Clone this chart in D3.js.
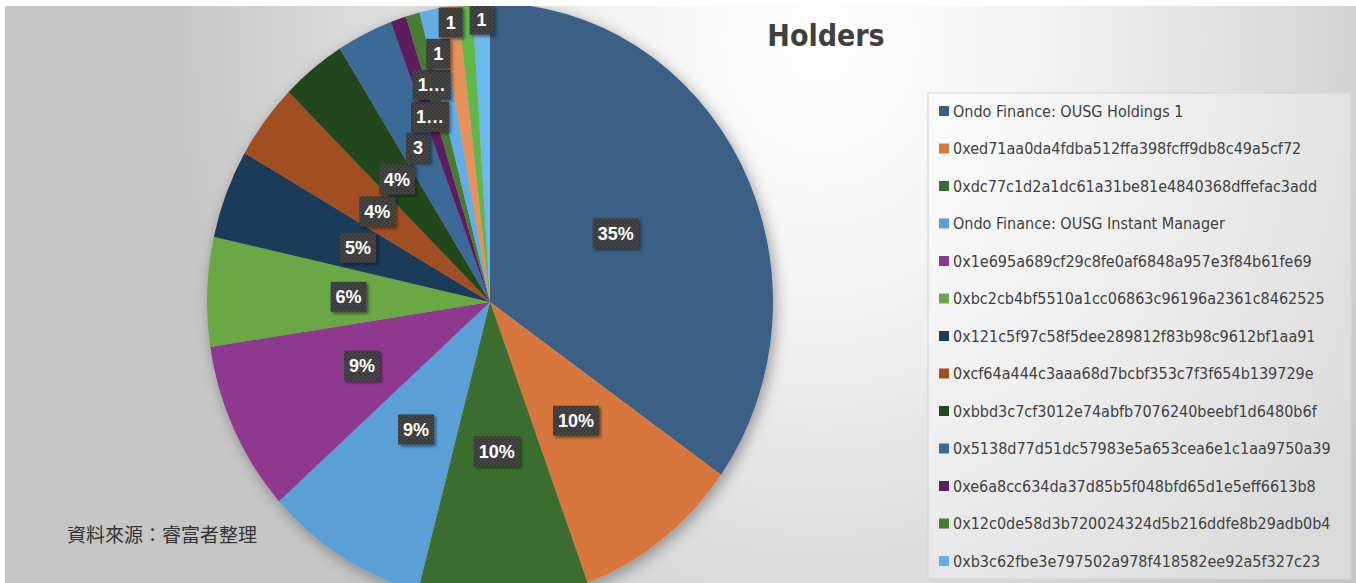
<!DOCTYPE html>
<html>
<head>
<meta charset="utf-8">
<script src="https://cdn.jsdelivr.net/npm/d3@7"></script>
<style>
  html, body { margin: 0; padding: 0; background: #fff; }
  svg { display: block; }
</style>
</head>
<body>
<div id="content"></div>
<script>
// holders, clockwise from 12 o'clock
const holderNames = [
  "Ondo Finance: OUSG Holdings 1",
  "0xed71aa0da4fdba512ffa398fcff9db8c49a5cf72",
  "0xdc77c1d2a1dc61a31be81e4840368dffefac3add",
  "Ondo Finance: OUSG Instant Manager",
  "0x1e695a689cf29c8fe0af6848a957e3f84b61fe69",
  "0xbc2cb4bf5510a1cc06863c96196a2361c8462525",
  "0x121c5f97c58f5dee289812f83b98c9612bf1aa91",
  "0xcf64a444c3aaa68d7bcbf353c7f3f654b139729e",
  "0xbbd3c7cf3012e74abfb7076240beebf1d6480b6f",
  "0x5138d77d51dc57983e5a653cea6e1c1aa9750a39",
  "0xe6a8cc634da37d85b5f048bfd65d1e5eff6613b8",
  "0x12c0de58d3b720024324d5b216ddfe8b29adb0b4",
  "0xb3c62fbe3e797502a978f418582ee92a5f327c23",
];
// share in % (last three are not in the legend)
const shares = [34.8, 9.6, 9.7, 9.3, 9.2, 5.9, 4.8, 4.1, 3.7, 3.2, 0.9, 0.8, 1.1, 1.1, 0.8, 1.0];
// data labels as shown (some are cut short)
const labelText = ["35%", "10%", "10%", "9%", "9%", "6%", "5%", "4%", "4%", "3", "1…", "1…", "1", "1", "", "1"];
const sliceColors = [
  "#3a5f85", "#d8773c", "#3a6e2e", "#5a9fd5", "#8e3790", "#6aa845",
  "#1f3a58", "#a14f20", "#23461f", "#3b6a96", "#5d1f5f", "#477b31",
  "#63aee4", "#e6925c", "#5fb84a", "#6cb9ee",
];
const chartTitle = "Holders";
const sourceNote = "資料來源：睿富者整理";

const W = 1356, H = 583;
const cx = 490, cy = 302, rx = 283, ry = 299;

const svg = d3.select("#content").append("svg")
  .attr("width", W).attr("height", H);

const defs = svg.append("defs");

const bg = defs.append("radialGradient")
  .attr("id", "bg")
  .attr("gradientUnits", "userSpaceOnUse")
  .attr("cx", 820).attr("cy", 40).attr("r", 760)
  .attr("gradientTransform", "translate(820,40) scale(0.85,1) translate(-820,-40)");
bg.append("stop").attr("offset", "0%").attr("stop-color", "#ffffff");
bg.append("stop").attr("offset", "35%").attr("stop-color", "#f2f2f2");
bg.append("stop").attr("offset", "75%").attr("stop-color", "#d9d9d9");
bg.append("stop").attr("offset", "100%").attr("stop-color", "#c6c6c6");

defs.append("clipPath").attr("id", "area")
  .append("rect").attr("x", 5).attr("y", 6).attr("width", W - 5).attr("height", H - 6);

const pieShadow = defs.append("filter").attr("id", "pieShadow")
  .attr("x", "-20%").attr("y", "-20%").attr("width", "140%").attr("height", "140%");
pieShadow.append("feDropShadow")
  .attr("dx", 3).attr("dy", 4).attr("stdDeviation", 7)
  .attr("flood-color", "#000").attr("flood-opacity", 0.35);

const boxShadow = defs.append("filter").attr("id", "boxShadow")
  .attr("x", "-30%").attr("y", "-30%").attr("width", "160%").attr("height", "160%");
boxShadow.append("feDropShadow")
  .attr("dx", 2).attr("dy", 2).attr("stdDeviation", 1.5)
  .attr("flood-color", "#000").attr("flood-opacity", 0.45);

// dotted texture of the label boxes
const dots = defs.append("pattern").attr("id", "dots")
  .attr("patternUnits", "userSpaceOnUse").attr("width", 4).attr("height", 4);
dots.append("rect").attr("width", 4).attr("height", 4).attr("fill", "#3b3b3b");
dots.append("rect").attr("x", 0).attr("y", 0).attr("width", 1.5).attr("height", 1.5).attr("fill", "#4c4c4c");
dots.append("rect").attr("x", 2).attr("y", 2).attr("width", 1.5).attr("height", 1.5).attr("fill", "#4c4c4c");

const root = svg.append("g").attr("clip-path", "url(#area)");

root.append("rect")
  .attr("x", 0).attr("y", 0).attr("width", W).attr("height", H)
  .attr("fill", "url(#bg)");

// pie (slightly taller than wide, as in the picture)
const pie = d3.pie().sort(null).value((d) => d);
const arcs = pie(shares);
const arc = d3.arc().innerRadius(0).outerRadius(rx);

root.append("g")
  .attr("transform", `translate(${cx},${cy}) scale(1,${ry / rx})`)
  .attr("filter", "url(#pieShadow)")
  .selectAll("path")
  .data(arcs)
  .enter()
  .append("path")
  .attr("d", arc)
  .attr("fill", (d, i) => sliceColors[i]);

// data labels: start at half radius, push outwards if they hit an earlier one
const labelFont = "bold 18px 'Liberation Sans', Arial, sans-serif";
const ctx = document.createElement("canvas").getContext("2d");
ctx.font = labelFont;

const placed = [];
let lastR = 0.5;
arcs.forEach((d, i) => {
  const txt = labelText[i];
  if (!txt) return;
  const a = (d.startAngle + d.endAngle) / 2;
  const w = Math.max(24, ctx.measureText(txt).width + 10);
  const h = 30;
  // thin slices keep climbing from where the previous one ended
  let r = shares[i] < 2 ? Math.max(0.5, lastR) : 0.5;
  let box;
  while (true) {
    const x = cx + Math.sin(a) * r * rx;
    const y = cy - Math.cos(a) * r * ry;
    box = { x: x - w / 2, y: y - h / 2, w, h, cxp: x, cyp: y, r, a, txt, i };
    const hit = placed.some((p) =>
      box.x - 3 < p.x + p.w && box.x + box.w + 3 > p.x &&
      box.y - 1 < p.y + p.h && box.y + box.h + 1 > p.y);
    if (!hit || r > 0.98) break;
    r += 0.005;
  }
  lastR = r;
  placed.push(box);
});

const labels = root.append("g");

const lab = labels.selectAll("g.lab")
  .data(placed)
  .enter()
  .append("g")
  .attr("class", "lab");

lab.append("rect")
  .attr("x", (b) => b.x).attr("y", (b) => b.y)
  .attr("width", (b) => b.w).attr("height", (b) => b.h)
  .attr("fill", "url(#dots)")
  .attr("filter", "url(#boxShadow)");

lab.append("text")
  .attr("x", (b) => b.cxp)
  .attr("y", (b) => b.cyp)
  .attr("dy", "0.36em")
  .attr("text-anchor", "middle")
  .attr("fill", "#ffffff")
  .style("font", labelFont)
  .text((b) => b.txt);

// title
root.append("text")
  .attr("x", 826).attr("y", 46)
  .attr("text-anchor", "middle")
  .attr("fill", "#404040")
  .style("font", "bold 30px 'DejaVu Sans Condensed', 'Liberation Sans Narrow', sans-serif")
  .text(chartTitle);

// legend
const legend = root.append("g");
legend.append("rect")
  .attr("x", 928).attr("y", 93).attr("width", 423).attr("height", 486)
  .attr("fill", "#ffffff").attr("fill-opacity", 0.35)
  .attr("stroke", "#d4d4d4").attr("stroke-width", 1);

const rowY = d3.scalePoint()
  .domain(d3.range(holderNames.length))
  .range([111, 561]);

const item = legend.selectAll("g.item")
  .data(holderNames)
  .enter()
  .append("g")
  .attr("class", "item")
  .attr("transform", (d, i) => `translate(939,${rowY(i)})`);

item.append("rect")
  .attr("x", 0).attr("y", -5)
  .attr("width", 10).attr("height", 10)
  .attr("fill", (d, i) => sliceColors[i]);

item.append("text")
  .attr("x", 14).attr("y", 0)
  .attr("dy", "0.35em")
  .attr("fill", "#404040")
  .style("font", "16px 'DejaVu Sans Condensed', 'Liberation Sans Narrow', sans-serif")
  .text((d) => d);

// source note
root.append("text")
  .attr("x", 67).attr("y", 542)
  .attr("fill", "#333333")
  .style("font", "19px 'Noto Sans CJK TC', sans-serif")
  .text(sourceNote);
</script>
</body>
</html>
